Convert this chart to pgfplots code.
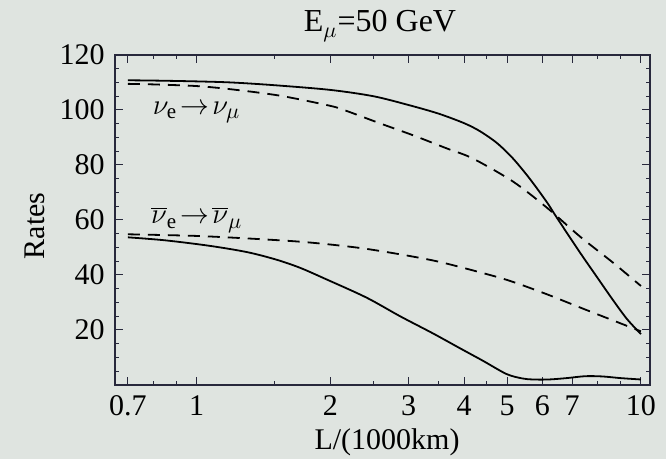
\documentclass[border=0pt]{standalone}
\usepackage{fontspec}
\setmainfont{Liberation Serif}
\usepackage{pgfplots}
\pgfplotsset{compat=1.18}
\definecolor{bg}{RGB}{223,228,224}
\definecolor{fr}{RGB}{40,40,60}
\begin{document}
\fontsize{15}{18}\selectfont
\begin{tikzpicture}
\path[use as bounding box, fill=bg] (-57.5pt,-37pt) rectangle (275.5pt,192.5pt);
\begin{axis}[
  at={(0pt,0pt)}, anchor=south west,
  scale only axis, width=267.5pt, height=165pt,
  xmode=log, xmin=0.655, xmax=10.48, ymin=0, ymax=120,
  xtick={0.7,1,2,3,4,5,6,7,10}, xticklabels={0.7,1,2,3,4,5,6,7,10},
  minor xtick={0.8,0.9,1.5,2.5,3.5,4.5,8,9},
  ytick={20,40,60,80,100,120}, minor ytick={5,10,15,25,30,35,45,50,55,65,70,75,85,90,95,105,110,115},
  tick align=inside, major tick length=4pt, minor tick length=2pt,
  tick style={fr, line width=0.5pt},
  /pgf/number format/assume math mode=true,
  axis line style={fr, line width=0.7pt},
  clip=false,
]
% nu_e -> nu_mu, solid
\addplot[black, line width=0.9pt, smooth] coordinates {
(0.7,110.8)(0.8,110.7)(1,110.4)(1.2,110)(1.5,109)(2,107.3)(2.5,105)(3,101.8)(3.5,98.7)(4,95.2)(4.34,92.3)(4.74,88)(5.15,82.4)(5.62,75)(6.14,66.5)(6.47,60.8)(7.29,48.2)(7.96,39.3)(8.65,30.9)(9.3,24)(10,18.5)};
% nu_e -> nu_mu, dashed
\addplot[black, line width=0.9pt, smooth, dash pattern=on 6pt off 4pt] coordinates {
(0.7,109.5)(0.8,109.3)(1,108.7)(1.2,107.5)(1.54,105.2)(2,101.5)(2.18,99.6)(2.58,95.2)(3.07,90.8)(3.66,86)(4.18,82.4)(5.15,74)(6.14,64.5)(7.29,54)(8.65,44.5)(10,36)};
% anti, dashed
\addplot[black, line width=0.9pt, smooth, dash pattern=on 6pt off 4pt] coordinates {
(0.7,54.8)(1,54.2)(1.4,53)(1.8,51.8)(2.41,49.5)(3.4,45.3)(4.5,40.3)(5.15,37.5)(6.14,33)(7.29,28.2)(9,22.4)(10,19.5)};
% anti, solid
\addplot[black, line width=0.9pt, smooth] coordinates {
(0.7,53.7)(0.85,52.6)(1.07,50.6)(1.3,48.3)(1.51,45.6)(1.71,42.6)(1.96,38.4)(2.41,31.8)(2.87,25)(3.4,18.8)(3.9,13.5)(4.41,8.8)(4.98,4)(5.4,2.4)(5.71,2)(6.2,2)(6.8,2.5)(7.5,3.2)(8.2,3.1)(9,2.5)(10,2)};
\node at (axis cs:1.0,99) {$\nu_{\mathrm{e}}\!\rightarrow\!\nu_{\mu}$};
\node at (axis cs:1.0,60) {$\overline{\nu}_{\mathrm{e}}\!\rightarrow\!\overline{\nu}_{\mu}$};
\end{axis}
\node[anchor=base] at (132.5pt,176.5pt) {\fontsize{16}{19}\selectfont E$_\mu$=50 GeV};
\node[rotate=90] at (-40pt,79.5pt) {Rates};
\node[anchor=base] at (136pt,-32.5pt) {L/(1000km)};
\end{tikzpicture}
\end{document}
